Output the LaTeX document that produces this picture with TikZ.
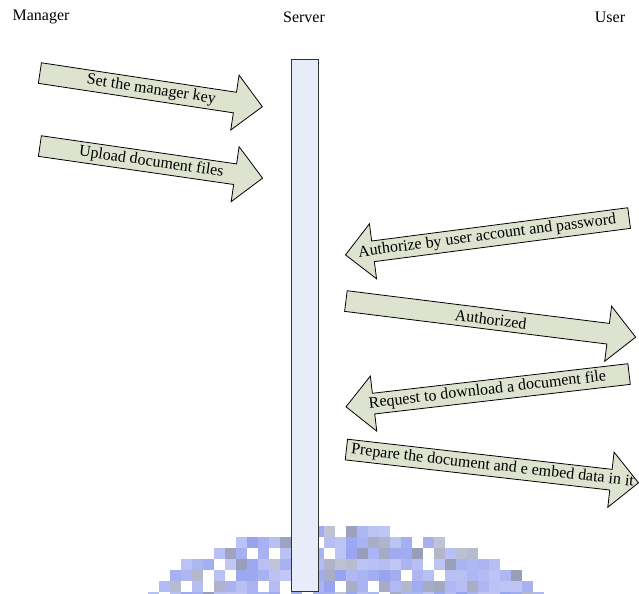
\documentclass[tikz,border=0pt]{standalone}
\usepackage{fontspec}
\setmainfont{Liberation Serif}
\usetikzlibrary{shapes.arrows,calc}

\definecolor{arrowfill}{RGB}{221,227,206}
\definecolor{barfill}{RGB}{230,236,248}
\definecolor{markblue}{RGB}{150,162,238}
\definecolor{markgray}{RGB}{150,156,185}

\begin{document}
\begin{tikzpicture}[
      x=0.75pt, y=-0.75pt,
      every node/.style={
        font=\fontsize{12}{14}\selectfont
      },
      msgarrow/.style={
        single arrow, draw=black, fill=arrowfill, line width=0.6pt,
        inner xsep=0pt, inner ysep=7.5pt,
        single arrow head extend=13pt, single arrow tip angle=90
      },
      msgtext/.style={inner sep=0pt}
    ]
    \useasboundingbox (0,0) rectangle (639,593);

    % Watermark (pixel mosaic)
    \pgfmathsetseed{11}
    \foreach \i in {0,...,35} {
      \foreach \j in {0,...,6} {
        \pgfmathsetmacro{\cx}{148+\i*11}
        \pgfmathsetmacro{\cy}{526+\j*11}
        \pgfmathtruncatemacro{\inside}{((\cx+5.5-344)/216)^2+((\cy+5.5-640)/112)^2<1 ? 1 : 0}
        \pgfmathtruncatemacro{\keep}{rnd>0.1 ? 1 : 0}
        \pgfmathtruncatemacro{\grey}{rnd>0.75 ? 1 : 0}
        \pgfmathtruncatemacro{\shade}{60+rnd*40}
        \ifnum\inside=1 \ifnum\keep=1
          \ifnum\grey=1
            \fill[markgray!\shade!white] (\cx,\cy) rectangle ++(11,11);
          \else
            \fill[markblue!\shade!white] (\cx,\cy) rectangle ++(11,11);
          \fi
        \fi \fi
      }
    }

    % Roles
    \node (mgr) at (41,17) {Manager};
    \node (srv) at (304,17) {Server};
    \node (usr) at (610,17) {User};

    % Server bar
    \node (bar) [draw=black!80, line width=0.75pt, fill=barfill, inner sep=0pt,
      minimum width=27*0.75pt, minimum height=532*0.75pt] at (304.5,325) {};

    % Manager to server
    \node (a1) [msgarrow, rotate=-8.6, minimum height=225*0.75pt, anchor=tail] at (39.5,73) {};
    \node (t1) [msgtext, rotate=-8.6] at ($(a1.tail)!.5!(a1.tip)$) {Set the manager key};
    \node (a2) [msgarrow, rotate=-8.2, minimum height=225*0.75pt, anchor=tail] at (39.5,146) {};
    \node (t2) [msgtext, rotate=-8.2] at ($(a2.tail)!.5!(a2.tip)$) {Upload document files};

    % User and server
    \node (a3) [msgarrow, shape border rotate=180, rotate=7.4, minimum height=286*0.75pt, anchor=tail] at (629.5,218) {};
    \node (t3) [msgtext, rotate=7.4] at ($(a3.tail)!.5!(a3.tip)$) {Authorize by user account and password};
    \node (a4) [msgarrow, rotate=-7.1, minimum height=292*0.75pt, anchor=tail] at (345.5,301) {};
    \node (t4) [msgtext, rotate=-7.1] at ($(a4.tail)!.5!(a4.tip)$) {Authorized};
    \node (a5) [msgarrow, shape border rotate=180, rotate=6.6, minimum height=285*0.75pt, anchor=tail] at (629.5,374) {};
    \node (t5) [msgtext, rotate=6.6] at ($(a5.tail)!.5!(a5.tip)$) {Request to download a document file};
    \node (a6) [msgarrow, rotate=-6.5, minimum height=294*0.75pt, anchor=tail] at (346,449.5) {};
    \node (t6) [msgtext, rotate=-6.5] at ($(a6.tail)!.5!(a6.tip)$) {Prepare the document and e embed data in it};
  \end{tikzpicture}
\end{document}
